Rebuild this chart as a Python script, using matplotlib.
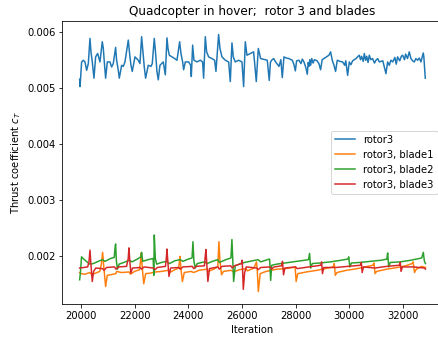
import matplotlib
matplotlib.use("Agg")
import matplotlib.pyplot as plt

# ---- data ----
rotor_it = [19950, 19965, 20024, 20087, 20149, 20211, 20273, 20335, 20372, 20422, 20484,
            20546, 20621, 20708, 20794, 20832, 20869, 20919, 20981, 21080, 21142, 21204,
            21291, 21328, 21391, 21428, 21515, 21577, 21639, 21763, 21825, 21863, 21912,
            22012, 22136, 22198, 22260, 22310, 22359, 22409, 22508, 22608, 22657, 22732,
            22782, 22831, 22881, 22943, 23067, 23143, 23205, 23243, 23292, 23392, 23491,
            23578, 23677, 23727, 23789, 23826, 23888, 24013, 24087, 24112, 24162, 24211,
            24323, 24447, 24534, 24571, 24634, 24683, 24758, 24882, 24981, 25031, 25130,
            25180, 25255, 25379, 25503, 25565, 25627, 25677, 25751, 25876, 26000, 26062,
            26124, 26186, 26310, 26435, 26534, 26609, 26696,
            26944, 27017, 27060, 27106, 27180, 27255, 27380, 27450, 27503, 27565, 27650,
            27751, 27876, 27940, 27990, 28037, 28124, 28200, 28250, 28310, 28380, 28435,
            28470, 28497, 28530, 28560, 28600, 28650, 28700, 28800, 28869, 28931, 28990,
            29056, 29150, 29242, 29304, 29366, 29430, 29490, 29552, 29650, 29752, 29830,
            29870, 29939, 30001, 30060, 30125, 30249, 30373, 30420, 30460, 30520, 30560,
            30610, 30650, 30700, 30746, 30800, 30870, 30940, 30994, 31060, 31119, 31250,
            31300, 31367, 31429, 31490, 31553, 31620, 31700, 31750, 31802, 31880, 31940,
            31988, 32060, 32100, 32170, 32236, 32299, 32360, 32423, 32480, 32547, 32610,
            32671, 32720, 32758, 32780, 32800, 32833]
rotor_ct = [0.00515, 0.00502, 0.00546, 0.00549, 0.00546, 0.00531, 0.00543, 0.00588, 0.00564, 0.00546, 0.00517,
            0.00555, 0.00561, 0.00546, 0.00582, 0.00570, 0.00546, 0.00517, 0.00546, 0.00546, 0.00537, 0.00543,
            0.00572, 0.00549, 0.00531, 0.00517, 0.00540, 0.00538, 0.00546, 0.00585, 0.00555, 0.00540, 0.00529,
            0.00555, 0.00549, 0.00543, 0.00591, 0.00564, 0.00537, 0.00517, 0.00540, 0.00538, 0.00543, 0.00588,
            0.00561, 0.00529, 0.00514, 0.00540, 0.00546, 0.00523, 0.00589, 0.00570, 0.00558, 0.00555, 0.00552,
            0.00549, 0.00582, 0.00561, 0.00546, 0.00532, 0.00546, 0.00546, 0.00540, 0.00520, 0.00576, 0.00549,
            0.00546, 0.00549, 0.00546, 0.00517, 0.00591, 0.00564, 0.00555, 0.00552, 0.00549, 0.00529, 0.00595,
            0.00570, 0.00555, 0.00549, 0.00546, 0.00511, 0.00580, 0.00555, 0.00546, 0.00549, 0.00546, 0.00502,
            0.00582, 0.00558, 0.00561, 0.00564, 0.00511, 0.00570, 0.00552,
            0.00549, 0.00513, 0.00545, 0.00549, 0.00552, 0.00546, 0.00538, 0.00550, 0.00518, 0.00555, 0.00553,
            0.00552, 0.00549, 0.00541, 0.00530, 0.00548, 0.00549, 0.00543, 0.00551, 0.00546, 0.00536, 0.00524,
            0.00545, 0.00538, 0.00550, 0.00540, 0.00552, 0.00544, 0.00550, 0.00548, 0.00543, 0.00532, 0.00550,
            0.00552, 0.00555, 0.00558, 0.00564, 0.00549, 0.00540, 0.00529, 0.00549, 0.00547, 0.00546, 0.00540,
            0.00548, 0.00522, 0.00546, 0.00541, 0.00548, 0.00552, 0.00558, 0.00550, 0.00556, 0.00547, 0.00561,
            0.00549, 0.00556, 0.00545, 0.00558, 0.00550, 0.00552, 0.00544, 0.00549, 0.00552, 0.00546, 0.00548,
            0.00538, 0.00525, 0.00546, 0.00540, 0.00549, 0.00546, 0.00554, 0.00542, 0.00555, 0.00548, 0.00556,
            0.00558, 0.00550, 0.00560, 0.00552, 0.00564, 0.00552, 0.00548, 0.00546, 0.00552, 0.00549, 0.00553,
            0.00546, 0.00555, 0.00562, 0.00555, 0.00540, 0.00517]

blade1_it = [19950, 20000, 20150, 20330, 20400, 20500, 20700, 20760, 20807, 20850, 20919,
             20980, 21100, 21300, 21330, 21500, 21800, 21840, 22000, 22180, 22220, 22247,
             22290, 22340, 22410, 22600, 22780, 23000, 23250, 23300, 23500, 23640, 23670,
             23688, 23730, 23780, 23850, 24100, 24200, 24400, 24700, 24750, 24950, 25100,
             25141, 25180, 25240, 25310, 25600, 25680, 25900, 26150, 26200, 26450, 26540,
             26570, 26610, 26680, 26900, 27100, 27300, 27600, 27900, 27980, 28020, 28080,
             28400, 28800, 29100, 29400, 29440, 29480, 29540, 29900, 30300, 30600, 30880,
             30920, 30960, 31020, 31400, 31800, 32100, 32340, 32380, 32430, 32500, 32700, 32840]
blade1_ct = [0.00170, 0.00168, 0.00167, 0.00170, 0.00166, 0.00168, 0.00172, 0.00185, 0.00206, 0.00180, 0.00145,
             0.00165, 0.00166, 0.00168, 0.00172, 0.00170, 0.00171, 0.00167, 0.00172, 0.00175, 0.00190, 0.00205,
             0.00175, 0.00150, 0.00168, 0.00169, 0.00171, 0.00172, 0.00174, 0.00170, 0.00175, 0.00178, 0.00190,
             0.00199, 0.00175, 0.00154, 0.00170, 0.00172, 0.00170, 0.00174, 0.00176, 0.00172, 0.00176, 0.00180,
             0.00225, 0.00190, 0.00166, 0.00172, 0.00174, 0.00171, 0.00175, 0.00177, 0.00173, 0.00178, 0.00189,
             0.00175, 0.00136, 0.00168, 0.00172, 0.00174, 0.00176, 0.00177, 0.00179, 0.00180, 0.00154, 0.00168,
             0.00171, 0.00174, 0.00177, 0.00180, 0.00186, 0.00165, 0.00170, 0.00174, 0.00177, 0.00180, 0.00183,
             0.00187, 0.00168, 0.00172, 0.00176, 0.00179, 0.00182, 0.00186, 0.00189, 0.00170, 0.00176, 0.00181, 0.00179]

blade2_it = [19950, 19980, 20020, 20100, 20250, 20335, 20460, 20600, 20800, 20900, 21100,
             21240, 21265, 21290, 21320, 21360, 21420, 21600, 21800, 21900, 22100, 22230,
             22260, 22300, 22500, 22690, 22715, 22732, 22770, 22820, 23000, 23200, 23300,
             23500, 23700, 23800, 24000, 24140, 24173, 24210, 24260, 24330, 24600, 24700,
             24900, 25100, 25160, 25400, 25590, 25626, 25660, 25690, 25750, 25950, 26100,
             26400, 26600, 26700, 26950, 27030, 27070, 27110, 27300, 27600, 27900, 28200,
             28480, 28520, 28560, 28620, 28900, 29300, 29700, 29950, 29980, 30020, 30080,
             30400, 30800, 31200, 31400, 31430, 31470, 31530, 31900, 32300, 32700, 32760,
             32800, 32840]
blade2_ct = [0.00157, 0.00170, 0.00198, 0.00194, 0.00188, 0.00185, 0.00186, 0.00189, 0.00193, 0.00190, 0.00195,
             0.00197, 0.00212, 0.00221, 0.00190, 0.00176, 0.00185, 0.00188, 0.00192, 0.00189, 0.00194, 0.00198,
             0.00206, 0.00190, 0.00193, 0.00195, 0.00165, 0.00237, 0.00195, 0.00185, 0.00188, 0.00190, 0.00186,
             0.00191, 0.00193, 0.00190, 0.00194, 0.00196, 0.00225, 0.00190, 0.00178, 0.00186, 0.00189, 0.00186,
             0.00190, 0.00193, 0.00188, 0.00193, 0.00196, 0.00229, 0.00190, 0.00154, 0.00182, 0.00186, 0.00188,
             0.00191, 0.00193, 0.00189, 0.00193, 0.00194, 0.00156, 0.00183, 0.00185, 0.00187, 0.00189, 0.00191,
             0.00193, 0.00204, 0.00178, 0.00186, 0.00187, 0.00189, 0.00192, 0.00194, 0.00198, 0.00180, 0.00187,
             0.00188, 0.00190, 0.00192, 0.00194, 0.00205, 0.00180, 0.00188, 0.00189, 0.00192, 0.00196, 0.00206,
             0.00190, 0.00186]

blade3_it = [19950, 20100, 20250, 20300, 20335, 20370, 20420, 20470, 20550, 20800, 20860,
             20950, 21250, 21300, 21400, 21700, 21760, 21788, 21820, 21860, 21920, 22200,
             22260, 22350, 22700, 22760, 22850, 23150, 23180, 23204, 23240, 23280, 23340,
             23650, 23700, 23800, 24150, 24200, 24300, 24600, 24630, 24657, 24690, 24730,
             24790, 25100, 25160, 25250, 25580, 25640, 25720, 25980, 26010, 26050, 26100,
             26160, 26550, 26600, 26700, 27050, 27100, 27200, 27480, 27510, 27550, 27600,
             28000, 28050, 28500, 28940, 28970, 29000, 29050, 29500, 29950, 30420, 30450,
             30480, 30530, 30950, 31400, 31870, 31900, 31930, 31980, 32400, 32800, 32840]
blade3_ct = [0.00178, 0.00179, 0.00180, 0.00190, 0.00210, 0.00185, 0.00154, 0.00172, 0.00178, 0.00177, 0.00174,
             0.00179, 0.00180, 0.00176, 0.00180, 0.00181, 0.00195, 0.00214, 0.00190, 0.00169, 0.00178, 0.00179,
             0.00176, 0.00180, 0.00178, 0.00175, 0.00179, 0.00181, 0.00195, 0.00212, 0.00188, 0.00163, 0.00178,
             0.00179, 0.00176, 0.00180, 0.00181, 0.00177, 0.00181, 0.00182, 0.00198, 0.00211, 0.00185, 0.00154,
             0.00177, 0.00180, 0.00176, 0.00181, 0.00182, 0.00178, 0.00182, 0.00186, 0.00192, 0.00140, 0.00170,
             0.00180, 0.00178, 0.00175, 0.00179, 0.00180, 0.00176, 0.00180, 0.00182, 0.00190, 0.00166, 0.00178,
             0.00180, 0.00177, 0.00180, 0.00183, 0.00189, 0.00168, 0.00179, 0.00179, 0.00181, 0.00183, 0.00188,
             0.00170, 0.00180, 0.00178, 0.00181, 0.00183, 0.00188, 0.00172, 0.00180, 0.00180, 0.00178, 0.00176]

labels = ["rotor3", "rotor3, blade1", "rotor3, blade2", "rotor3, blade3"]
xticks = [20000, 22000, 24000, 26000, 28000, 30000, 32000]
yticks = [0.002, 0.003, 0.004, 0.005, 0.006]

# ---- figure ----
fig = plt.figure(figsize=(438 / 72, 341 / 72), dpi=72)
ax = fig.add_axes([0.1422, 0.1085, 0.8687, 0.8308])

ax.plot(rotor_it, rotor_ct, color="#1f77b4", label=labels[0])
ax.plot(blade1_it, blade1_ct, color="#ff7f0e", label=labels[1])
ax.plot(blade2_it, blade2_ct, color="#2ca02c", label=labels[2])
ax.plot(blade3_it, blade3_ct, color="#d62728", label=labels[3])

ax.set_xlim(19303, 33485)
ax.set_ylim(0.001138, 0.006196)
ax.set_xticks(xticks)
ax.set_yticks(yticks)
ax.set_xticklabels([str(t) for t in xticks])
ax.set_yticklabels(["%.3f" % t for t in yticks])

ax.set_title("Quadcopter in hover;  rotor 3 and blades")
ax.set_xlabel("Iteration")
ax.set_ylabel("Thrust coefficient $c_T$")
ax.legend(loc="center right")

fig.savefig("out.png", dpi=72)
